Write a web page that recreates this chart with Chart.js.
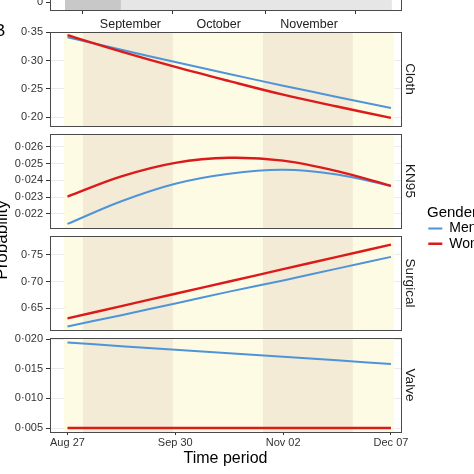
<!DOCTYPE html>
<html><head><meta charset="utf-8">
<script src="https://cdn.jsdelivr.net/npm/chart.js@4.4.0/dist/chart.umd.min.js"></script>
<style>
html,body{margin:0;padding:0;background:#fff;overflow:hidden;width:474px;height:474px;}
#wrap{position:relative;width:474px;height:474px;overflow:hidden;background:#fff;}
canvas{position:absolute;}
</style></head><body><div id="wrap">
<canvas id="cFrame" width="60" height="474" style="left:-6px;top:0px"></canvas>
<canvas id="cTop" width="420" height="130" style="left:0px;top:-100px"></canvas>
<canvas id="cCloth" width="420" height="114" style="left:0px;top:22px"></canvas>
<canvas id="cKN95" width="420" height="114" style="left:0px;top:124px"></canvas>
<canvas id="cSurgical" width="420" height="114" style="left:0px;top:226px"></canvas>
<canvas id="cValve" width="420" height="146" style="left:0px;top:328px"></canvas>
<canvas id="cLegend" width="90" height="120" style="left:427px;top:205px"></canvas>
</div>
<script>
// ---------- data ----------
const waves = [0, 0.5, 1, 1.5, 2, 2.5, 3];
const xTickValues = [0, 1, 2, 3];
const xTickLabels = ['Aug 27', 'Sep 30', 'Nov 02', 'Dec 07'];
const genders = ['Men', 'Women'];

const clothMen   = [0.3414, 0.3192, 0.2976, 0.2765, 0.2559, 0.2359, 0.2164];
const clothWomen = [0.345, 0.316, 0.289, 0.264, 0.240, 0.219, 0.199];
const kn95Men    = [0.02139, 0.02275, 0.02380, 0.02440, 0.02463, 0.02435, 0.02367];
const kn95Women  = [0.02303, 0.02424, 0.02505, 0.02535, 0.02518, 0.02455, 0.02367];
const surgicalMen   = [0.616, 0.637, 0.659, 0.681, 0.702, 0.724, 0.746];
const surgicalWomen = [0.631, 0.654, 0.677, 0.700, 0.723, 0.746, 0.769];
const valveMen   = [0.0194, 0.0188, 0.0182, 0.0176, 0.0170, 0.0164, 0.0158];
const valveWomen = [0.005, 0.005, 0.005, 0.005, 0.005, 0.005, 0.005];

const clothTicks = [0.20, 0.25, 0.30, 0.35];
const clothTickLabels = ['0·20', '0·25', '0·30', '0·35'];
const kn95Ticks = [0.022, 0.023, 0.024, 0.025, 0.026];
const kn95TickLabels = ['0·022', '0·023', '0·024', '0·025', '0·026'];
const surgicalTicks = [0.65, 0.70, 0.75];
const surgicalTickLabels = ['0·65', '0·70', '0·75'];
const valveTicks = [0.005, 0.010, 0.015, 0.020];
const valveTickLabels = ['0·005', '0·010', '0·015', '0·020'];

const clothRange = [0.1846, 0.3507];
const kn95Range = [0.021146, 0.026776];
const surgicalRange = [0.6093, 0.785];
const valveRange = [0.00433, 0.02017];
const xRange = [-0.162, 3.093];

// background month bands (x from, x to, kind)
const monthBands = [[-0.0325, 0.144, 'light'], [0.144, 0.978, 'tan'], [0.978, 1.813, 'light'], [1.813, 2.647, 'tan'], [2.647, 3.027, 'light']];
// top (panel A) remnant
const topBands = [[-0.023, 0.496, 'dark'], [0.496, 3.008, 'grey']];
const topMonths = ['September', 'October', 'November'];
const topMonthCenters = [0.584, 1.402, 2.240];
const topMonthEdges = [0.141, 0.976, 1.838, 2.673];
const topYTicks = [0];
const topYTickLabels = ['0'];

// ---------- styles ----------
const RED = '#dc1a1a', BLUE = '#4f94d9';
const FONT = 'Liberation Sans, Arial, Helvetica, sans-serif';
Chart.defaults.font.family = FONT;
const bandColors = {light: '#fefbe4', tan: '#f3ebd5', dark: '#c8c8c8', grey: '#e6e6e6'};

const bandsPlugin = {
  id: 'bands',
  beforeDatasetsDraw(chart, args, opts) {
    if (!opts || !opts.list) return;
    const {ctx, chartArea: a} = chart;
    const x = chart.scales.x;
    ctx.save();
    ctx.beginPath(); ctx.rect(a.left, a.top, a.right - a.left, a.bottom - a.top); ctx.clip();
    for (const b of opts.list) {
      const x0 = x.getPixelForValue(b[0]), x1 = x.getPixelForValue(b[1]);
      ctx.fillStyle = bandColors[b[2]];
      ctx.fillRect(x0, a.top, x1 - x0, a.bottom - a.top);
    }
    ctx.restore();
  }
};
const borderPlugin = {
  id: 'panelBorder',
  afterDatasetsDraw(chart, args, opts) {
    if (!opts || !opts.show) return;
    const {ctx, chartArea: a} = chart;
    ctx.save();
    ctx.strokeStyle = '#4a4a4a'; ctx.lineWidth = 1;
    ctx.strokeRect(Math.round(a.left) + 0.5, Math.round(a.top) + 0.5, Math.round(a.right - a.left), Math.round(a.bottom - a.top));
    ctx.restore();
  }
};

function series(vals) { return waves.map((w, i) => ({x: w, y: vals[i]})); }

function facet(id, men, women, ticks, tickLabels, range, strip, bottom) {
  return new Chart(document.getElementById(id), {
    type: 'line',
    data: {datasets: [
      {label: 'Women', data: series(women), borderColor: RED, backgroundColor: RED, borderWidth: 2.4, pointRadius: 0, tension: 0.35, fill: false},
      {label: 'Men', data: series(men), borderColor: BLUE, backgroundColor: BLUE, borderWidth: 2, pointRadius: 0, tension: 0.35, fill: false}
    ]},
    plugins: [bandsPlugin, borderPlugin],
    options: {
      responsive: false, animation: false, devicePixelRatio: 1,
      layout: {padding: {top: 10, bottom: bottom ? 0 : 10, left: 0, right: 0}},
      plugins: {legend: {display: false}, tooltip: {enabled: false},
        bands: {list: monthBands}, panelBorder: {show: true}},
      scales: {
        x: {type: 'linear', min: xRange[0], max: xRange[1], display: bottom,
          afterBuildTicks: s => { s.ticks = xTickValues.map(v => ({value: v})); },
          afterFit: s => { s.height = bottom ? 42 : 0; },
          ticks: {autoSkip: false, maxRotation: 0, padding: 1, color: '#333', font: {size: 11}, callback: (v, i) => xTickLabels[i]},
          grid: {drawOnChartArea: false, tickLength: 3, tickColor: '#333', color: '#333'},
          border: {display: false},
          title: {display: true, text: 'Time period', color: '#000', font: {size: 16}, padding: {top: 0, bottom: 5.4}}
        },
        y: {type: 'linear', min: range[0], max: range[1],
          afterBuildTicks: s => { s.ticks = ticks.map(v => ({value: v})); },
          afterFit: s => { s.width = 50; },
          ticks: {autoSkip: false, padding: 3, color: '#333', font: {size: 11}, callback: (v, i) => tickLabels[i]},
          grid: {color: '#ebebeb', tickColor: '#333', tickLength: 4},
          border: {display: false}
        },
        y1: {type: 'linear', position: 'right', min: 0, max: 1,
          afterFit: s => { s.width = 19; },
          ticks: {display: false}, grid: {display: false}, border: {display: false},
          title: {display: true, text: strip, color: '#1a1a1a', font: {size: 13.5}, padding: {top: 2.2, bottom: 0}}
        }
      }
    }
  });
}

// top remnant panel
const topTickVals = [...topMonthEdges, ...topMonthCenters].sort((a, b) => a - b);
new Chart(document.getElementById('cTop'), {
  type: 'line', data: {datasets: []},
  plugins: [bandsPlugin, borderPlugin],
  options: {
    responsive: false, animation: false, devicePixelRatio: 1,
    layout: {padding: {top: 10, bottom: 0, left: 0, right: 0}},
    plugins: {legend: {display: false}, tooltip: {enabled: false}, bands: {list: topBands}, panelBorder: {show: true}},
    scales: {
      x: {type: 'linear', min: xRange[0], max: xRange[1],
        afterBuildTicks: s => { s.ticks = topTickVals.map(v => ({value: v})); },
        afterFit: s => { s.height = 20; },
        ticks: {autoSkip: false, maxRotation: 0, padding: 3, color: '#222', font: {size: 12.5},
          callback: v => { const k = topMonthCenters.indexOf(v); return k >= 0 ? topMonths[k] : ''; }},
        grid: {drawOnChartArea: false, tickLength: 4,
          tickColor: c => (c.tick && c.tick.label) ? 'rgba(0,0,0,0)' : '#333'},
        border: {display: false}
      },
      y: {type: 'linear', min: -0.8, max: 9.2,
        afterBuildTicks: s => { s.ticks = topYTicks.map(v => ({value: v})); },
        afterFit: s => { s.width = 50; },
        ticks: {padding: 3, color: '#333', font: {size: 11}, callback: (v, i) => topYTickLabels[i]},
        grid: {display: true, drawOnChartArea: false, tickColor: '#333', tickLength: 4},
        border: {display: false}
      },
      y1: {type: 'linear', position: 'right', afterFit: s => { s.width = 19; },
        ticks: {display: false}, grid: {display: false}, border: {display: false}}
    }
  }
});

facet('cCloth', clothMen, clothWomen, clothTicks, clothTickLabels, clothRange, 'Cloth', false);
facet('cKN95', kn95Men, kn95Women, kn95Ticks, kn95TickLabels, kn95Range, 'KN95', false);
facet('cSurgical', surgicalMen, surgicalWomen, surgicalTicks, surgicalTickLabels, surgicalRange, 'Surgical', false);
facet('cValve', valveMen, valveWomen, valveTicks, valveTickLabels, valveRange, 'Valve', true);

// frame: panel letter and y title
new Chart(document.getElementById('cFrame'), {
  type: 'line', data: {datasets: []},
  options: {
    responsive: false, animation: false, devicePixelRatio: 1,
    layout: {padding: {top: 0, bottom: 35.2, left: 0, right: 0}},
    plugins: {legend: {display: false}, tooltip: {enabled: false},
      title: {display: true, text: 'B', align: 'start', color: '#000', font: {size: 17, weight: 'normal'}, padding: {top: 20.8, bottom: 0}}},
    scales: {
      x: {display: false},
      y: {display: true, ticks: {display: false}, grid: {display: false}, border: {display: false},
        title: {display: true, text: 'Probability', color: '#000', font: {size: 17, lineHeight: 1}, padding: {top: 0.2, bottom: 0}}}
    }
  }
});

// legend
new Chart(document.getElementById('cLegend'), {
  type: 'line',
  data: {datasets: genders.map((g, i) => ({label: g, data: [], borderColor: i ? RED : BLUE, backgroundColor: i ? RED : BLUE, borderWidth: i ? 2.4 : 2}))},
  options: {
    responsive: false, animation: false, devicePixelRatio: 1,
    layout: {padding: 0},
    plugins: {tooltip: {enabled: false},
      legend: {display: true, position: 'top', align: 'start',
        title: {display: true, text: 'Gender', position: 'start', color: '#000', font: {size: 15, lineHeight: 1}, padding: {top: 0, bottom: 0.2}},
        labels: {usePointStyle: true, pointStyle: 'line', pointStyleWidth: 14, boxWidth: 14, font: {size: 14}, color: '#000', padding: 1.3}}},
    scales: {x: {display: false}, y: {display: false}}
  }
});
</script></body></html>
